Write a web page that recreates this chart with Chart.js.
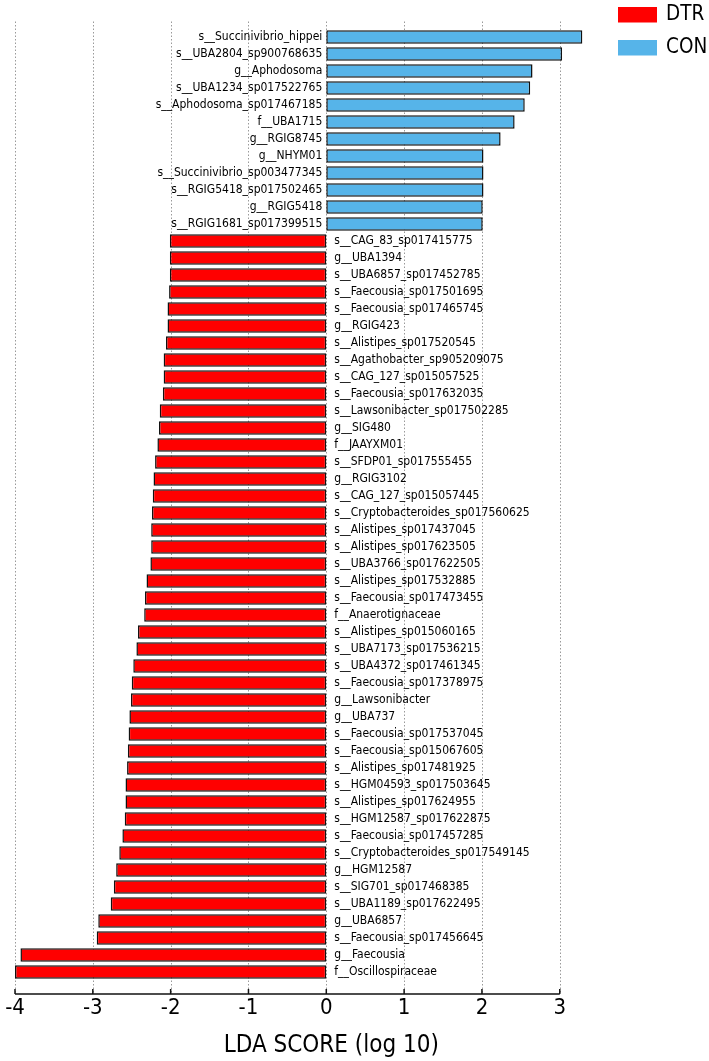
<!DOCTYPE html>
<html lang="en">
<head>
    <meta charset="UTF-8">
    <title>LDA SCORE (log 10)</title>
    <script src="https://cdn.jsdelivr.net/npm/chart.js"></script>
    <style>
        html, body { margin: 0; padding: 0; background: #fff; }
        #box { width: 709px; height: 1061px; position: relative; }
    </style>
</head>
<body>
    <div id="box"><canvas id="lda"></canvas></div>

    <script>
        // taxa enriched in CON (top part, positive LDA)
        const conTaxa = [
            's__Succinivibrio_hippei', 's__UBA2804_sp900768635', 'g__Aphodosoma',
            's__UBA1234_sp017522765', 's__Aphodosoma_sp017467185', 'f__UBA1715',
            'g__RGIG8745', 'g__NHYM01', 's__Succinivibrio_sp003477345',
            's__RGIG5418_sp017502465', 'g__RGIG5418', 's__RGIG1681_sp017399515'
        ];
        const conScores = [3.29, 3.03, 2.65, 2.62, 2.55, 2.42, 2.24, 2.02, 2.02, 2.02, 2.01, 2.01];

        // taxa enriched in DTR (negative LDA)
        const dtrTaxa = [
            's__CAG_83_sp017415775', 'g__UBA1394', 's__UBA6857_sp017452785',
            's__Faecousia_sp017501695', 's__Faecousia_sp017465745', 'g__RGIG423',
            's__Alistipes_sp017520545', 's__Agathobacter_sp905209075', 's__CAG_127_sp015057525',
            's__Faecousia_sp017632035', 's__Lawsonibacter_sp017502285', 'g__SIG480',
            'f__JAAYXM01', 's__SFDP01_sp017555455', 'g__RGIG3102',
            's__CAG_127_sp015057445', 's__Cryptobacteroides_sp017560625', 's__Alistipes_sp017437045',
            's__Alistipes_sp017623505', 's__UBA3766_sp017622505', 's__Alistipes_sp017532885',
            's__Faecousia_sp017473455', 'f__Anaerotignaceae', 's__Alistipes_sp015060165',
            's__UBA7173_sp017536215', 's__UBA4372_sp017461345', 's__Faecousia_sp017378975',
            'g__Lawsonibacter', 'g__UBA737', 's__Faecousia_sp017537045',
            's__Faecousia_sp015067605', 's__Alistipes_sp017481925', 's__HGM04593_sp017503645',
            's__Alistipes_sp017624955', 's__HGM12587_sp017622875', 's__Faecousia_sp017457285',
            's__Cryptobacteroides_sp017549145', 'g__HGM12587', 's__SIG701_sp017468385',
            's__UBA1189_sp017622495', 'g__UBA6857', 's__Faecousia_sp017456645',
            'g__Faecousia', 'f__Oscillospiraceae'
        ];
        const dtrScores = [
            -2.01, -2.01, -2.01, -2.02, -2.04, -2.04, -2.06, -2.09, -2.09, -2.10,
            -2.14, -2.15, -2.17, -2.20, -2.22, -2.23, -2.24, -2.25, -2.25, -2.26,
            -2.31, -2.33, -2.34, -2.42, -2.44, -2.48, -2.50, -2.51, -2.53, -2.54,
            -2.55, -2.56, -2.58, -2.58, -2.59, -2.62, -2.66, -2.70, -2.73, -2.77,
            -2.93, -2.95, -3.93, -4.00
        ];

        const xTicks = [-4, -3, -2, -1, 0, 1, 2, 3];
        const groupNames = ['DTR', 'CON'];
        const groupColors = ['#ff0000', '#56b4e9'];

        const FONT = "'DejaVu Sans Condensed', 'DejaVu Sans', sans-serif";

        const labels = conTaxa.concat(dtrTaxa);
        const dtrData = conTaxa.map(() => null).concat(dtrScores);
        const conData = conScores.concat(dtrTaxa.map(() => null));

        // grid, axis, taxon names, x title and legend
        const extras = {
            id: 'extras',
            beforeDatasetsDraw(chart) {
                const ctx = chart.ctx;
                const x = chart.scales.x;
                const area = chart.chartArea;
                ctx.save();
                ctx.strokeStyle = '#9a9a9a';
                ctx.lineWidth = 1;
                ctx.setLineDash([1.5, 2]);
                xTicks.forEach(v => {
                    const px = Math.round(x.getPixelForValue(v)) + 0.5;
                    ctx.beginPath();
                    ctx.moveTo(px, area.top - 7);
                    ctx.lineTo(px, area.bottom + 13.5);
                    ctx.stroke();
                });
                ctx.restore();
            },
            afterDatasetsDraw(chart) {
                const ctx = chart.ctx;
                const x = chart.scales.x;
                const area = chart.chartArea;
                const zero = x.getPixelForValue(0);
                const axisY = area.bottom + 13.5;

                ctx.save();
                // x axis line with inward ticks
                ctx.strokeStyle = '#111';
                ctx.lineWidth = 1.5;
                ctx.beginPath();
                ctx.moveTo(x.getPixelForValue(xTicks[0]), axisY);
                ctx.lineTo(x.getPixelForValue(xTicks[xTicks.length - 1]), axisY);
                ctx.stroke();
                ctx.fillStyle = '#000';
                ctx.textAlign = 'center';
                ctx.textBaseline = 'middle';
                ctx.font = '22px ' + FONT;
                xTicks.forEach(v => {
                    const px = x.getPixelForValue(v);
                    ctx.beginPath();
                    ctx.moveTo(px, axisY);
                    ctx.lineTo(px, axisY - 5);
                    ctx.stroke();
                    ctx.fillText(String(v), px, axisY + 14);
                });

                // taxon names beside the zero line
                ctx.font = '12px ' + FONT;
                chart.data.datasets.forEach((ds, i) => {
                    chart.getDatasetMeta(i).data.forEach((bar, j) => {
                        const v = ds.data[j];
                        if (v === null) return;
                        if (v > 0) {
                            ctx.textAlign = 'right';
                            ctx.fillText(labels[j], zero - 4, bar.y);
                        } else {
                            ctx.textAlign = 'left';
                            ctx.fillText(labels[j], zero + 8, bar.y);
                        }
                    });
                });

                // axis title
                ctx.textAlign = 'center';
                ctx.font = '24px ' + FONT;
                ctx.fillText('LDA SCORE (log 10)', zero + 5, area.bottom + 65);

                // legend, top right
                ctx.font = '20.5px ' + FONT;
                ctx.textAlign = 'left';
                groupNames.forEach((name, i) => {
                    const top = 7 + i * 33;
                    ctx.fillStyle = groupColors[i];
                    ctx.fillRect(618, top, 39, 15.5);
                    ctx.fillStyle = '#000';
                    ctx.fillText(name, 666, top + 8);
                });
                ctx.restore();
            }
        };

        new Chart(document.getElementById('lda'), {
            type: 'bar',
            data: {
                labels: labels,
                datasets: [
                    {
                        label: groupNames[0],
                        data: dtrData,
                        backgroundColor: groupColors[0],
                        borderColor: '#111',
                        borderWidth: 1.5,
                        borderSkipped: false,
                        grouped: false,
                        categoryPercentage: 1,
                        barPercentage: 0.8
                    },
                    {
                        label: groupNames[1],
                        data: conData,
                        backgroundColor: groupColors[1],
                        borderColor: '#111',
                        borderWidth: 1.5,
                        borderSkipped: false,
                        grouped: false,
                        categoryPercentage: 1,
                        barPercentage: 0.8
                    }
                ]
            },
            options: {
                indexAxis: 'y',
                responsive: true,
                maintainAspectRatio: false,
                animation: false,
                layout: { padding: { left: 15, right: 122, top: 28.5, bottom: 0 } },
                plugins: {
                    legend: { display: false },
                    tooltip: { enabled: false }
                },
                scales: {
                    y: { display: false },
                    x: {
                        min: -4,
                        max: 3.35,
                        grid: { display: false, drawTicks: false },
                        border: { display: false },
                        ticks: { display: false },
                        afterFit(scale) { scale.height = 80.5; }
                    }
                }
            },
            plugins: [extras]
        });
    </script>
</body>
</html>
